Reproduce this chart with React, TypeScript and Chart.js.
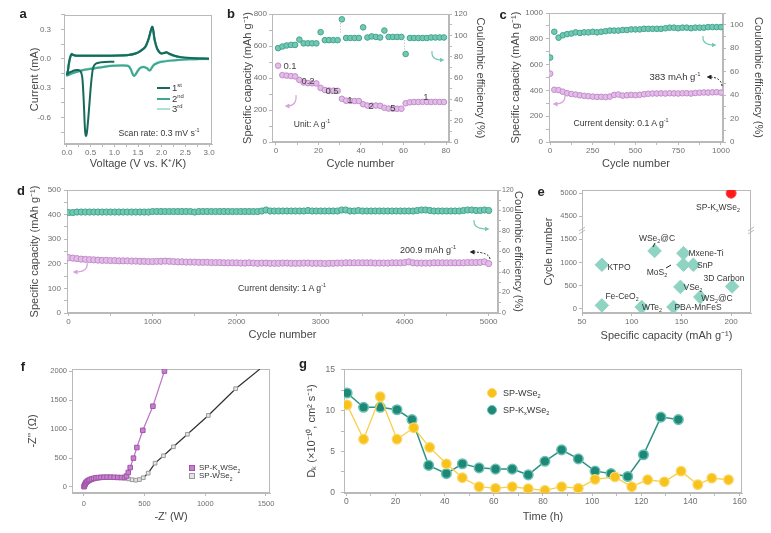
import React, { useEffect, useRef } from "react";
import { Chart, registerables } from "chart.js";

Chart.register(...registerables);

const FONT = "'Liberation Sans', Arial, Helvetica, sans-serif";
Chart.defaults.font.family = FONT;

const TICK = "#6f6f6f";
const TITLE = "#464646";
const AXIS = "#b9b9b9";
const NOTE = "#363636";

// ---------------- Panel a : CV curves ----------------
const cvV1 = [1.0, 0.9, 0.8, 0.7, 0.62, 0.57, 0.54, 0.5, 0.46, 0.42, 0.4, 0.38, 0.36, 0.34, 0.32, 0.29, 0.25, 0.2, 0.15, 0.1, 0.05, 0.0,
  0.02, 0.04, 0.07, 0.1, 0.13, 0.2, 0.5, 0.8, 1.1, 1.3, 1.45, 1.55, 1.65, 1.72, 1.77, 1.8, 1.82, 1.85, 1.9, 1.95, 2.0, 2.05, 2.1, 2.15, 2.25, 2.4, 2.6, 2.8, 3.0];
const cvI1 = [-0.03, -0.03, -0.032, -0.036, -0.045, -0.07, -0.12, -0.3, -0.55, -0.76, -0.79, -0.72, -0.5, -0.3, -0.18, -0.13, -0.115, -0.115, -0.12, -0.13, -0.14, -0.16,
  -0.12, -0.05, 0.02, 0.05, 0.04, 0.032, 0.032, 0.033, 0.035, 0.04, 0.055, 0.08, 0.12, 0.2, 0.29, 0.33, 0.3, 0.2, 0.11, 0.07, 0.055, 0.06, 0.068, 0.055, 0.035, 0.018, 0.008, 0.004, 0.002];
const cvV23 = [3.0, 2.8, 2.6, 2.4, 2.2, 2.0, 1.9, 1.82, 1.77, 1.74, 1.7, 1.64, 1.56, 1.5, 1.45, 1.42, 1.39, 1.35, 1.3, 1.2, 1.0, 0.8, 0.6, 0.4, 0.2, 0.1, 0.0,
  0.02, 0.04, 0.07, 0.1, 0.13, 0.2, 0.5, 0.8, 1.1, 1.3, 1.45, 1.55, 1.65, 1.72, 1.77, 1.8, 1.82, 1.85, 1.9, 1.95, 2.0, 2.05, 2.1, 2.15, 2.25, 2.4, 2.6, 2.8, 3.0];
const cvI2 = [0.0, -0.002, -0.005, -0.01, -0.018, -0.03, -0.045, -0.07, -0.11, -0.12, -0.1, -0.085, -0.09, -0.12, -0.16, -0.175, -0.16, -0.11, -0.075, -0.068, -0.07, -0.08, -0.095, -0.11, -0.135, -0.15, -0.17,
  -0.12, -0.05, 0.02, 0.05, 0.04, 0.032, 0.032, 0.033, 0.035, 0.04, 0.055, 0.08, 0.12, 0.2, 0.29, 0.33, 0.3, 0.2, 0.11, 0.07, 0.055, 0.06, 0.068, 0.055, 0.035, 0.018, 0.008, 0.004, 0.002];
const cvI3 = [0.0, -0.002, -0.004, -0.009, -0.016, -0.028, -0.042, -0.066, -0.105, -0.115, -0.098, -0.083, -0.088, -0.118, -0.155, -0.17, -0.155, -0.108, -0.073, -0.066, -0.068, -0.078, -0.093, -0.108, -0.132, -0.148, -0.168,
  -0.118, -0.048, 0.022, 0.052, 0.042, 0.034, 0.034, 0.035, 0.037, 0.042, 0.057, 0.082, 0.118, 0.19, 0.28, 0.32, 0.29, 0.19, 0.105, 0.068, 0.055, 0.06, 0.066, 0.053, 0.034, 0.017, 0.008, 0.004, 0.002];
const aXTicks = [0, 0.25, 0.5, 0.75, 1, 1.25, 1.5, 1.75, 2, 2.25, 2.5, 2.75, 3];
const aXLabels = [0, 0.5, 1, 1.5, 2, 2.5, 3];
const aYTicks = [-0.75, -0.6, -0.45, -0.3, -0.15, 0, 0.15, 0.3, 0.45];
const aYLabels = [-0.6, -0.3, 0, 0.3];

// ---------------- Panel b : rate performance ----------------
const bCycles = [1, 3, 5, 7, 9, 11, 13, 15, 17, 19, 21, 23, 25, 27, 29, 31, 33, 35, 37, 39, 41, 43, 45, 47, 49, 51, 53, 55, 57, 59, 61, 63, 65, 67, 69, 71, 73, 75, 77, 79];
const bCapacity = [477, 418, 415, 412, 410, 388, 372, 368, 367, 366, 338, 325, 322, 321, 320, 270, 258, 257, 256, 256, 236, 228, 227, 228, 226, 214, 209, 208, 208, 208, 242, 248, 250, 250, 251, 251, 250, 251, 250, 250];
const bCE = [88, 89.5, 90.5, 91, 91, 96, 92.5, 92.5, 92.5, 92.5, 103, 95.5, 95.5, 95.5, 95.5, 115, 97.5, 97.5, 97.5, 97.5, 107.5, 98, 99, 98.5, 98, 104.5, 98.5, 98.5, 98.5, 98.5, 82.5, 97.5, 97.5, 97.5, 97.5, 97.5, 98, 98, 98, 98];
const bRates = ["0.1", "0.2", "0.5", "1", "2", "5", "1"];

// ---------------- Panel c : 0.1 A/g cycling ----------------
const cCycles = [1, 25, 50, 75, 100, 125, 150, 175, 200, 225, 250, 275, 300, 325, 350, 375, 400, 425, 450, 475, 500, 525, 550, 575, 600, 625, 650, 675, 700, 725, 750, 775, 800, 825, 850, 875, 900, 925, 950, 975, 1000];
const cCapacity = [530, 405, 402, 390, 378, 372, 368, 362, 358, 355, 352, 350, 350, 348, 352, 365, 368, 360, 362, 365, 363, 366, 370, 374, 376, 376, 377, 376, 378, 377, 376, 378, 378, 376, 380, 382, 384, 383, 385, 386, 383];
const cCE = [72, 94, 89, 91, 92, 92.5, 93.5, 93, 93.5, 93.5, 94, 93.5, 94, 94.5, 95, 95, 95, 95.5, 95.5, 96, 96, 96, 96.5, 96.5, 96.5, 96.5, 96.5, 97, 97.5, 97.5, 97, 97.5, 97.5, 97, 97.5, 97.5, 97.5, 98, 98, 98, 98];

// ---------------- Panel d : 1 A/g long cycling ----------------
const dCycles = Array.from({ length: 101 }, (_, i) => i * 50);
const dCapacity = [
  225, 223, 221, 219, 218, 217, 216, 215, 214, 214,
  213, 213, 212, 212, 212, 211, 211, 210, 210, 209,
  209, 210, 210, 211, 210, 209, 208, 208, 207, 207,
  207, 206, 206, 206, 205, 205, 205, 204, 204, 204,
  204, 203, 203, 204, 203, 202, 203, 203, 202, 202,
  202, 203, 203, 202, 202, 202, 203, 203, 202, 202,
  202, 201, 202, 202, 203, 203, 204, 204, 204, 204,
  204, 204, 204, 203, 203, 203, 203, 204, 204, 204,
  205, 208, 204, 203, 203, 203, 203, 204, 204, 204,
  204, 204, 204, 204, 204, 205, 205, 205, 206, 208,
  201];
const dCE = [
  98, 98, 98.5, 98.5, 98.5, 98.5, 98.5, 98.5, 98.5, 98.5,
  98.5, 98.5, 98.5, 98.5, 98.5, 98.5, 98.5, 98.5, 98.5, 98.5,
  99, 99, 99, 99, 99, 99, 99, 99, 99, 99,
  98.5, 99, 99, 99, 99, 99, 99, 99, 99, 99,
  99, 99, 99, 99, 99, 99, 99.5, 100.5, 99.5, 99.5,
  99.5, 99.5, 99.5, 99.5, 99.5, 99.5, 99.5, 100, 99.5, 99.5,
  99.5, 99.5, 99.5, 99.5, 99.5, 100.5, 100.5, 99.5, 99.5, 100,
  99.5, 99.5, 99.5, 99.5, 99.5, 99.5, 99.5, 99.5, 99.5, 99.5,
  99.5, 99.5, 99.5, 100, 100.5, 100.5, 100, 99.5, 99.5, 99.5,
  99.5, 99.5, 99.5, 99.5, 100, 100.5, 100.5, 100, 100, 100.5,
  100];

// ---------------- Panel e : comparison ----------------
const eNames = ["SP-KxWSe2", "3D Carbon", "WSe2@C", "Mxene-Ti", "MoS2", "SnP", "KTPO", "VSe2", "WS2@C", "Fe-CeO2", "WTe2", "PBA-MnFeS"];
const eCapacity = [200, 201, 123, 152, 152, 162, 70, 149, 169, 70, 110, 142];
const eCycles = [5000, 480, 1250, 1200, 950, 950, 950, 470, 250, 70, 35, 35];
const eYTickValues = [0, 500, 1000, 1500, 4500, 5000];

// ---------------- Panel f : EIS ----------------
const fKxRe = [2, 5, 8, 12, 17, 23, 30, 40, 52, 66, 82, 100, 120, 142, 166, 192, 220, 250, 280, 310, 335, 352, 366, 382, 409, 437, 486, 569, 664];
const fKxIm = [5, 20, 38, 55, 72, 88, 102, 116, 128, 140, 150, 158, 163, 167, 169, 170, 170, 168, 165, 163, 165, 190, 250, 336, 499, 683, 980, 1397, 2005];
const fWRe = [2, 5, 9, 14, 20, 28, 38, 50, 64, 80, 98, 118, 140, 165, 190, 218, 248, 278, 308, 338, 368, 398, 428, 458, 490, 530, 587, 656, 738, 853, 1025, 1250, 1450];
const fWIm = [5, 18, 35, 52, 68, 84, 98, 112, 124, 135, 145, 153, 160, 165, 168, 170, 168, 165, 160, 152, 140, 125, 118, 128, 160, 240, 412, 540, 696, 912, 1237, 1700, 2040];

// ---------------- Panel g : diffusion coefficient ----------------
const gTimeW = [0.3, 7.0, 13.8, 20.6, 27.4, 33.9, 40.7, 47.2, 54.0, 60.7, 67.5, 74.0, 80.8, 87.6, 94.4, 101.2, 109.3, 116.1, 122.6, 129.4, 136.2, 143.0, 148.7, 155.5];
const gDW = [10.7, 6.5, 11.7, 6.5, 7.9, 5.5, 3.5, 1.8, 0.7, 0.5, 0.7, 0.45, 0.25, 0.7, 0.5, 1.6, 1.9, 0.7, 1.55, 1.3, 2.6, 0.95, 1.75, 1.55];
const gTimeK = [0.3, 7.0, 13.8, 20.6, 26.7, 33.5, 40.7, 47.2, 54.0, 60.7, 67.5, 74.0, 80.8, 87.6, 94.4, 101.2, 107.7, 114.5, 120.9, 128.0, 135.1];
const gDK = [12.15, 10.4, 10.4, 10.1, 8.9, 3.3, 2.3, 3.5, 3.0, 2.85, 2.85, 2.15, 3.8, 5.2, 4.1, 2.6, 2.3, 1.95, 4.6, 9.2, 8.9];

// ---------------- helpers ----------------
type Box = { l: number; t: number; w: number; h: number };
type Plot = { l: number; t: number; r: number; b: number };

const xy = (xs: number[], ys: number[]) => xs.map((x, i) => ({ x, y: ys[i] }));
const isIn = (list: number[], v: number) => list.some((m) => Math.abs(m - v) < 1e-6);

type AxisOpt = {
  pos: "left" | "right" | "bottom";
  min: number;
  max: number;
  ticks: number[];
  labels: number[];
  fmt?: (v: number) => string;
  size: number;
  tickSize: number;
  tickPad: number;
  title?: string;
  titlePad?: number;
};

function axis(o: AxisOpt) {
  const horiz = o.pos === "bottom";
  const fmt = o.fmt || ((v: number) => String(v));
  return {
    type: "linear",
    position: o.pos,
    min: o.min,
    max: o.max,
    bounds: "data",
    afterBuildTicks: (s: any) => {
      s.ticks = o.ticks.map((v) => ({ value: v }));
    },
    afterFit: (s: any) => {
      if (horiz) s.height = o.size;
      else s.width = o.size;
    },
    grid: { display: true, drawOnChartArea: false, drawTicks: true, tickLength: 3, color: AXIS, tickColor: AXIS },
    border: { display: true, color: AXIS, width: 1 },
    ticks: {
      autoSkip: false,
      maxRotation: 0,
      minRotation: 0,
      padding: o.tickPad,
      color: TICK,
      font: { family: FONT, size: o.tickSize },
      callback: (v: any) => (isIn(o.labels, Number(v)) ? fmt(Number(v)) : ""),
    },
    title: o.title
      ? {
          display: true,
          text: o.title,
          color: TITLE,
          font: { family: FONT, size: 11 },
          padding: horiz ? { top: 0, bottom: o.titlePad || 0 } : { top: o.titlePad || 0, bottom: 0 },
        }
      : { display: false },
  };
}

const framePlugin = {
  id: "frame",
  beforeDatasetsDraw(chart: any) {
    const { ctx, chartArea: a } = chart;
    ctx.save();
    ctx.strokeStyle = AXIS;
    ctx.lineWidth = 1;
    ctx.strokeRect(Math.round(a.left) + 0.5, Math.round(a.top) + 0.5, Math.round(a.right - a.left) - 1, Math.round(a.bottom - a.top) - 1);
    ctx.restore();
  },
};

function opts(box: Box, plot: Plot, rightAxis: boolean, scales: any) {
  return {
    responsive: false,
    animation: false,
    events: [],
    layout: { padding: { left: 0, bottom: 0, top: plot.t - box.t, right: rightAxis ? 0 : box.l + box.w - plot.r } },
    plugins: { legend: { display: false }, tooltip: { enabled: false } },
    scales,
  };
}

const PINK_FILL = "#e3bde8";
const PINK_EDGE = "#c28ccb";
const TEAL_FILL = "#72c9b3";
const TEAL_EDGE = "#45a48e";

function capDataset(data: any[], r: number) {
  return { data, yAxisID: "y", pointRadius: r, pointBackgroundColor: PINK_FILL, pointBorderColor: PINK_EDGE, pointBorderWidth: 1 };
}
function ceDataset(data: any[], r: number) {
  return { data, yAxisID: "y2", pointRadius: r, pointBackgroundColor: TEAL_FILL, pointBorderColor: TEAL_EDGE, pointBorderWidth: 1 };
}

// ---------------- panel configs ----------------
const boxA: Box = { l: 0, t: 0, w: 226, h: 175 };
const plotA: Plot = { l: 64, t: 13, r: 212, b: 144 };
function makeA() {
  const line = (d: any[], c: string, w: number) => ({ data: d, showLine: true, borderColor: c, borderWidth: w, pointRadius: 0, tension: 0.25 });
  return {
    type: "scatter",
    data: {
      datasets: [
        line(xy(cvV1, cvI1), "#17695c", 2),
        line(xy(cvV23, cvI2), "#3ea792", 2),
        line(xy(cvV23, cvI3), "#aee0d3", 2.6),
      ],
    },
    options: opts(boxA, plotA, false, {
      x: axis({ pos: "bottom", min: -0.063, max: 3.063, ticks: aXTicks, labels: aXLabels, fmt: (v) => v.toFixed(1), size: 31, tickSize: 8, tickPad: 1, title: "Voltage (V vs. K⁺/K)", titlePad: 4.4 }),
      y: axis({ pos: "left", min: -0.873, max: 0.452, ticks: aYTicks, labels: aYLabels, fmt: (v) => v.toFixed(1), size: 64, tickSize: 8, tickPad: 10, title: "Current (mA)", titlePad: 28.4 }),
    }),
    plugins: [framePlugin],
  };
}

const boxB: Box = { l: 238, t: 0, w: 250, h: 175 };
const plotB: Plot = { l: 272, t: 14, r: 449, b: 142 };
function makeB() {
  return {
    type: "scatter",
    data: { datasets: [ceDataset(xy(bCycles, bCE), 2.8), capDataset(xy(bCycles, bCapacity), 2.8)] },
    options: opts(boxB, plotB, true, {
      x: axis({ pos: "bottom", min: -1.87, max: 81.4, ticks: [0, 10, 20, 30, 40, 50, 60, 70, 80], labels: [0, 20, 40, 60, 80], size: 33, tickSize: 8, tickPad: 1, title: "Cycle number", titlePad: 4.4 }),
      y: axis({ pos: "left", min: 0, max: 800, ticks: [0, 100, 200, 300, 400, 500, 600, 700, 800], labels: [0, 200, 400, 600, 800], size: 34, tickSize: 8, tickPad: 2, title: "Specific capacity (mAh g⁻¹)", titlePad: 3.4 }),
      y2: axis({ pos: "right", min: 0, max: 120, ticks: [0, 10, 20, 30, 40, 50, 60, 70, 80, 90, 100, 110, 120], labels: [0, 20, 40, 60, 80, 100, 120], size: 39, tickSize: 8, tickPad: 2, title: "Coulombic efficiency (%)", titlePad: 1.4 }),
    }),
    plugins: [framePlugin],
  };
}

const boxC: Box = { l: 508, t: 0, w: 263, h: 175 };
const plotC: Plot = { l: 549, t: 13, r: 723, b: 142 };
function makeC() {
  return {
    type: "scatter",
    data: { datasets: [ceDataset(xy(cCycles, cCE), 2.8), capDataset(xy(cCycles, cCapacity), 2.8)] },
    options: opts(boxC, plotC, true, {
      x: axis({ pos: "bottom", min: -6, max: 1012, ticks: [0, 125, 250, 375, 500, 625, 750, 875, 1000], labels: [0, 250, 500, 750, 1000], size: 33, tickSize: 8, tickPad: 1, title: "Cycle number", titlePad: 4.4 }),
      y: axis({ pos: "left", min: 0, max: 1000, ticks: [0, 100, 200, 300, 400, 500, 600, 700, 800, 900, 1000], labels: [0, 200, 400, 600, 800, 1000], size: 41, tickSize: 8, tickPad: 3, title: "Specific capacity (mAh g⁻¹)", titlePad: 1.4 }),
      y2: axis({ pos: "right", min: 0, max: 110, ticks: [0, 10, 20, 30, 40, 50, 60, 70, 80, 90, 100, 110], labels: [0, 20, 40, 60, 80, 100], size: 48, tickSize: 8, tickPad: 4, title: "Coulombic efficiency (%)", titlePad: 6.4 }),
    }),
    plugins: [framePlugin],
  };
}

const boxD: Box = { l: 26, t: 178, w: 502, h: 165 };
const plotD: Plot = { l: 67, t: 190, r: 498, b: 313 };
function makeD() {
  return {
    type: "scatter",
    data: { datasets: [ceDataset(xy(dCycles, dCE), 3.1), capDataset(xy(dCycles, dCapacity), 3.1)] },
    options: opts(boxD, plotD, true, {
      x: axis({ pos: "bottom", min: -19, max: 5111, ticks: [0, 500, 1000, 1500, 2000, 2500, 3000, 3500, 4000, 4500, 5000], labels: [0, 1000, 2000, 3000, 4000, 5000], size: 30, tickSize: 8, tickPad: 1, title: "Cycle number", titlePad: 1.4 }),
      y: axis({ pos: "left", min: 0, max: 500, ticks: [0, 50, 100, 150, 200, 250, 300, 350, 400, 450, 500], labels: [0, 100, 200, 300, 400, 500], size: 41, tickSize: 8, tickPad: 3, title: "Specific capacity (mAh g⁻¹)", titlePad: 2.4 }),
      y2: axis({ pos: "right", min: 0, max: 120, ticks: [0, 10, 20, 30, 40, 50, 60, 70, 80, 90, 100, 110, 120], labels: [0, 20, 40, 60, 80, 100, 120], size: 30, tickSize: 7, tickPad: 1, title: "Coulombic efficiency (%)", titlePad: 3.4 }),
    }),
    plugins: [framePlugin],
  };
}

// broken y-axis for panel e: 0-1500 and 4500-5000 compressed onto an even tick grid
const eBreak = (v: number) => (v <= 2000 ? v / 500 : 3 + (v - 4000) / 500);
const boxE: Box = { l: 540, t: 178, w: 231, h: 165 };
const plotE: Plot = { l: 582, t: 190, r: 751, b: 313 };
function makeE() {
  const pts = eCapacity.map((c, i) => ({ x: c, y: eBreak(eCycles[i]) }));
  const tickT = eYTickValues.map(eBreak);
  return {
    type: "scatter",
    data: {
      datasets: [
        { label: eNames[0], data: pts.slice(0, 1), pointStyle: "circle", pointRadius: 5, pointBackgroundColor: "#ff1a1a", pointBorderColor: "#ff4a4a", pointBorderWidth: 1 },
        { label: "others", data: pts.slice(1), pointStyle: "rectRot", pointRadius: 6.8, pointBackgroundColor: "#8fd3c2", pointBorderColor: "#8fd3c2", pointBorderWidth: 1 },
      ],
    },
    options: opts(boxE, plotE, false, {
      x: axis({ pos: "bottom", min: 50, max: 220, ticks: [50, 100, 150, 200], labels: [50, 100, 150, 200], size: 30, tickSize: 8, tickPad: 1, title: "Specific capacity (mAh g⁻¹)", titlePad: 0.4 }),
      y: axis({ pos: "left", min: -0.19, max: 5.14, ticks: tickT, labels: tickT, fmt: (v) => String(eYTickValues[Math.round(v)]), size: 42, tickSize: 7.5, tickPad: 2, title: "Cycle number", titlePad: 2.4 }),
    }),
    plugins: [framePlugin],
  };
}

const boxF: Box = { l: 20, t: 355, w: 262, h: 178 };
const plotF: Plot = { l: 72, t: 369, r: 270, b: 493 };
function makeF() {
  const wRadius = fWRe.map((_, i) => (i === fWRe.length - 1 ? 0 : 2.6));
  return {
    type: "scatter",
    data: {
      datasets: [
        { data: xy(fKxRe, fKxIm), showLine: true, borderColor: "#bd72c6", borderWidth: 1.2, pointStyle: "rect", pointRadius: 3.2, pointBackgroundColor: "#c681cd", pointBorderColor: "#a055aa", pointBorderWidth: 1 },
        { data: xy(fWRe, fWIm), showLine: true, borderColor: "#2f2f2f", borderWidth: 1.2, pointStyle: "rect", pointRadius: wRadius, pointBackgroundColor: "#e4e4e4", pointBorderColor: "#9a9a9a", pointBorderWidth: 1 },
      ],
    },
    options: opts(boxF, plotF, false, {
      x: axis({ pos: "bottom", min: -97, max: 1533, ticks: [0, 500, 1000, 1500], labels: [0, 500, 1000, 1500], size: 40, tickSize: 7.5, tickPad: 3, title: "-Z' (W)", titlePad: 9.7 }),
      y: axis({ pos: "left", min: -104, max: 2041, ticks: [0, 500, 1000, 1500, 2000], labels: [0, 500, 1000, 1500, 2000], size: 52, tickSize: 7.5, tickPad: 2, title: "-Z'' (Ω)", titlePad: 6.4 }),
    }),
    plugins: [framePlugin],
  };
}

const boxG: Box = { l: 300, t: 355, w: 471, h: 178 };
const plotG: Plot = { l: 344, t: 369, r: 742, b: 493 };
function makeG() {
  return {
    type: "scatter",
    data: {
      datasets: [
        { data: xy(gTimeW, gDW), showLine: true, borderColor: "#f7cf4a", borderWidth: 1.3, pointRadius: 4.8, pointBackgroundColor: "#f8c21c", pointBorderColor: "#fbd766", pointBorderWidth: 1.2 },
        { data: xy(gTimeK, gDK), showLine: true, borderColor: "#2a9484", borderWidth: 1.5, pointRadius: 4.8, pointBackgroundColor: "#1d8877", pointBorderColor: "#6cc0b1", pointBorderWidth: 1.5 },
      ],
    },
    options: opts(boxG, plotG, false, {
      x: axis({ pos: "bottom", min: -0.96, max: 161, ticks: [0, 10, 20, 30, 40, 50, 60, 70, 80, 90, 100, 110, 120, 130, 140, 150, 160], labels: [0, 20, 40, 60, 80, 100, 120, 140, 160], size: 40, tickSize: 8.5, tickPad: 1, title: "Time (h)", titlePad: 9.7 }),
      y: axis({ pos: "left", min: -0.07, max: 15.08, ticks: [0, 2.5, 5, 7.5, 10, 12.5, 15], labels: [0, 5, 10, 15], size: 44, tickSize: 8.5, tickPad: 6, title: "Dₖ (×10⁻¹⁰, cm² s⁻¹)", titlePad: 5.1 }),
    }),
    plugins: [framePlugin],
  };
}

// ---------------- React ----------------
function ChartBox({ box, make }: { box: Box; make: () => any }) {
  const ref = useRef<HTMLCanvasElement | null>(null);
  useEffect(() => {
    if (!ref.current) return;
    const chart = new Chart(ref.current, make());
    return () => chart.destroy();
  }, []);
  return (
    <canvas
      ref={ref}
      width={box.w}
      height={box.h}
      style={{ position: "absolute", left: box.l, top: box.t, width: box.w, height: box.h }}
    />
  );
}

const Sup = ({ children }: { children: any }) => (
  <span style={{ fontSize: "0.62em", verticalAlign: "super", lineHeight: 0 }}>{children}</span>
);
const Sub = ({ children }: { children: any }) => (
  <span style={{ fontSize: "0.62em", verticalAlign: "sub", lineHeight: 0 }}>{children}</span>
);

function T({ x, y, size = 9, color = NOTE, bold = false, left = false, children }: any) {
  return (
    <div
      style={{
        position: "absolute",
        left: x,
        top: y,
        transform: left ? "translate(0,-50%)" : "translate(-50%,-50%)",
        fontFamily: FONT,
        fontSize: size,
        fontWeight: bold ? 700 : 400,
        color,
        whiteSpace: "nowrap",
        lineHeight: 1,
      }}
    >
      {children}
    </div>
  );
}

function Swatch({ x, y, w, h, bg, border, round }: any) {
  return (
    <div
      style={{
        position: "absolute",
        left: x - w / 2,
        top: y - h / 2,
        width: w,
        height: h,
        background: bg,
        border: border ? `1px solid ${border}` : undefined,
        boxSizing: "border-box",
        borderRadius: round ? "50%" : 0,
      }}
    />
  );
}

function Arrows() {
  const pink = "#d7a3dd";
  const teal = "#74c7b4";
  const dark = "#222";
  const mk = (id: string, c: string) => (
    <marker id={id} markerWidth="5" markerHeight="5" refX="2.5" refY="2.5" orient="auto" markerUnits="userSpaceOnUse">
      <path d="M0,0 L5,2.5 L0,5 z" fill={c} />
    </marker>
  );
  return (
    <svg width={771} height={533} style={{ position: "absolute", left: 0, top: 0, pointerEvents: "none" }}>
      <defs>
        {mk("ap", pink)}
        {mk("at", teal)}
        {mk("ad", dark)}
      </defs>
      {/* b */}
      <path d="M296,95 Q297,106 287,106" stroke={pink} strokeWidth={1.2} fill="none" markerEnd="url(#ap)" />
      <path d="M432,51 Q431,60 442,60" stroke={teal} strokeWidth={1.2} fill="none" markerEnd="url(#at)" />
      <path d="M340.5,23 L340.5,34" stroke="#b0b0b0" strokeWidth={0.8} strokeDasharray="1.2,1.6" />
      <path d="M404.5,40 L404.5,50" stroke="#b0b0b0" strokeWidth={0.8} strokeDasharray="1.2,1.6" />
      {/* c */}
      <path d="M565,94 Q566,104 555,104" stroke={pink} strokeWidth={1.2} fill="none" markerEnd="url(#ap)" />
      <path d="M703,36 Q702,45 714,45" stroke={teal} strokeWidth={1.2} fill="none" markerEnd="url(#at)" />
      <path d="M722,86 Q721,77 709,77" stroke={dark} strokeWidth={1} strokeDasharray="2,1.5" fill="none" markerEnd="url(#ad)" />
      {/* d */}
      <path d="M87,262 Q89,272 75,272" stroke={pink} strokeWidth={1.2} fill="none" markerEnd="url(#ap)" />
      <path d="M474,220 Q473,229 487,229" stroke={teal} strokeWidth={1.2} fill="none" markerEnd="url(#at)" />
      <path d="M490,259 Q489,252 472,252" stroke={dark} strokeWidth={1} strokeDasharray="2,1.5" fill="none" markerEnd="url(#ad)" />
      {/* e pointers */}
      <path d="M655,243 L653,247" stroke={dark} strokeWidth={1} />
      <path d="M666,268 L671,265" stroke={dark} strokeWidth={1} />
      {/* e axis break marks */}
      <path d="M579,231 L585,227 M579,234 L585,230" stroke="#aaa" strokeWidth={0.8} />
      <path d="M748,231 L754,227 M748,234 L754,230" stroke="#aaa" strokeWidth={0.8} />
    </svg>
  );
}

export default function App() {
  return (
    <div style={{ position: "fixed", left: 0, top: 0, width: 771, height: 533, background: "#fff", overflow: "hidden" }}>
      <ChartBox box={boxA} make={makeA} />
      <ChartBox box={boxB} make={makeB} />
      <ChartBox box={boxC} make={makeC} />
      <ChartBox box={boxD} make={makeD} />
      <ChartBox box={boxE} make={makeE} />
      <ChartBox box={boxF} make={makeF} />
      <ChartBox box={boxG} make={makeG} />
      <Arrows />

      {/* panel letters */}
      <T x={23} y={13} size={13} bold color="#222">a</T>
      <T x={231} y={13} size={13} bold color="#222">b</T>
      <T x={503} y={14} size={13} bold color="#222">c</T>
      <T x={21} y={190} size={13} bold color="#222">d</T>
      <T x={541} y={191} size={13} bold color="#222">e</T>
      <T x={23} y={366} size={13} bold color="#222">f</T>
      <T x={303} y={363} size={13} bold color="#222">g</T>

      {/* a legend + note */}
      <Swatch x={163} y={88} w={13} h={2.5} bg="#17695c" />
      <Swatch x={163} y={99} w={13} h={2.5} bg="#3ea792" />
      <Swatch x={163} y={109} w={13} h={2.5} bg="#aee0d3" />
      <T x={172} y={88} size={9.5} left>1<Sup>st</Sup></T>
      <T x={172} y={99} size={9.5} left>2<Sup>nd</Sup></T>
      <T x={172} y={109} size={9.5} left>3<Sup>rd</Sup></T>
      <T x={159} y={133} size={8.7}>Scan rate: 0.3 mV s<Sup>-1</Sup></T>

      {/* b notes */}
      <T x={290} y={66} size={9.5} color="#444">{bRates[0]}</T>
      <T x={308} y={81} size={9.5} color="#444">{bRates[1]}</T>
      <T x={332} y={91} size={9.5} color="#444">{bRates[2]}</T>
      <T x={350} y={100} size={9.5} color="#444">{bRates[3]}</T>
      <T x={371} y={106} size={9.5} color="#444">{bRates[4]}</T>
      <T x={393} y={108} size={9.5} color="#444">{bRates[5]}</T>
      <T x={426} y={97} size={9.5} color="#444">{bRates[6]}</T>
      <T x={312} y={124} size={8.5}>Unit: A g<Sup>-1</Sup></T>

      {/* c notes */}
      <T x={675} y={77} size={9.5}>383 mAh g<Sup>-1</Sup></T>
      <T x={621} y={123} size={8.7}>Current density: 0.1 A g<Sup>-1</Sup></T>

      {/* d notes */}
      <T x={428} y={250} size={9}>200.9 mAh g<Sup>-1</Sup></T>
      <T x={282} y={288} size={8.7}>Current density: 1 A g<Sup>-1</Sup></T>

      {/* e labels */}
      <T x={718} y={207} size={8.5}>SP-K<Sub>x</Sub>WSe<Sub>2</Sub></T>
      <T x={657} y={238} size={8.5}>WSe<Sub>2</Sub>@C</T>
      <T x={706} y={253} size={8.5}>Mxene-Ti</T>
      <T x={705} y={265} size={8.5}>SnP</T>
      <T x={619} y={267} size={8.5}>KTPO</T>
      <T x={657} y={272} size={8.5}>MoS<Sub>2</Sub></T>
      <T x={724} y={278} size={8.5}>3D Carbon</T>
      <T x={693} y={287} size={8.5}>VSe<Sub>2</Sub></T>
      <T x={622} y={296} size={8.5}>Fe-CeO<Sub>2</Sub></T>
      <T x={717} y={298} size={8.5}>WS<Sub>2</Sub>@C</T>
      <T x={652} y={307} size={8.5}>WTe<Sub>2</Sub></T>
      <T x={698} y={307} size={8.5}>PBA-MnFeS</T>

      {/* f legend */}
      <Swatch x={192} y={468} w={6} h={6} bg="#c681cd" border="#a055aa" />
      <Swatch x={192} y={476} w={6} h={6} bg="#e4e4e4" border="#9a9a9a" />
      <T x={199} y={468} size={8} left>SP-K<Sub>x</Sub>WSe<Sub>2</Sub></T>
      <T x={199} y={476} size={8} left>SP-WSe<Sub>2</Sub></T>

      {/* g legend */}
      <Swatch x={492} y={393} w={10} h={10} bg="#f8c21c" border="#fbd766" round />
      <Swatch x={492} y={410} w={10} h={10} bg="#1d8877" border="#6cc0b1" round />
      <T x={503} y={393} size={9} left>SP-WSe<Sub>2</Sub></T>
      <T x={503} y={410} size={9} left>SP-K<Sub>x</Sub>WSe<Sub>2</Sub></T>
    </div>
  );
}
